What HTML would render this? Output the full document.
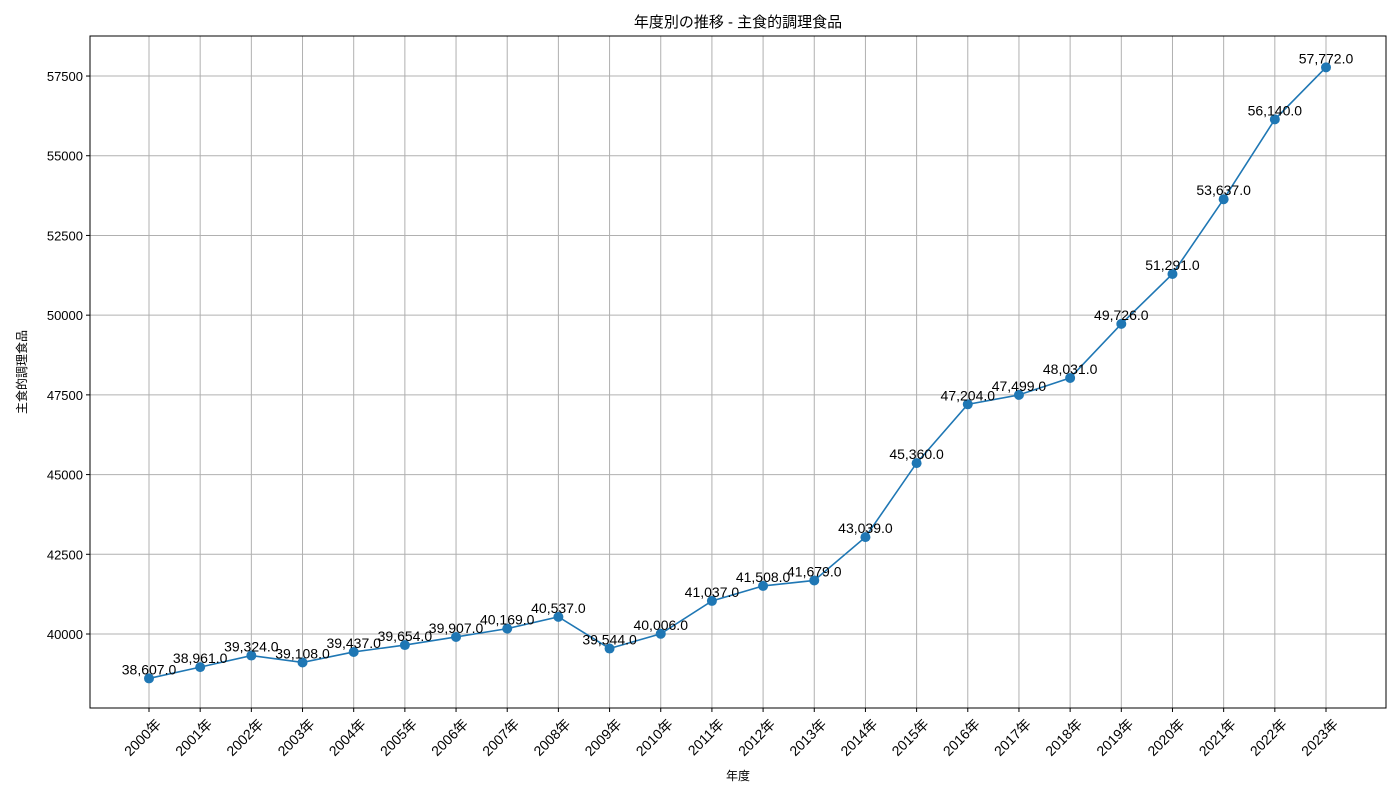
<!DOCTYPE html>
<html><head><meta charset="utf-8"><style>
body{margin:0;background:#fff}
svg{display:block;font-family:"Liberation Sans","Noto Sans CJK JP",sans-serif}
</style></head><body>
<svg id="chart" width="1400" height="800">
<text x="738" y="27" text-anchor="middle" font-size="15">年度別の推移 - 主食的調理食品</text>
<text transform="translate(26,372) rotate(-90)" text-anchor="middle" font-size="12">主食的調理食品</text>
<text x="738" y="780" text-anchor="middle" font-size="12">年度</text>
<g id="grid"></g><g id="yt"></g><g id="xt"></g><g id="series"></g>
<rect x="90" y="36" width="1296" height="672" fill="none" stroke="#000" stroke-width="1"/>
</svg>
<script>
const years=[2000,2001,2002,2003,2004,2005,2006,2007,2008,2009,2010,2011,2012,2013,2014,2015,2016,2017,2018,2019,2020,2021,2022,2023];
const values=[38607,38961,39324,39108,39437,39654,39907,40169,40537,39544,40006,41037,41508,41679,43039,45360,47204,47499,48031,49726,51291,53637,56140,57772];
const yTicks=[40000,42500,45000,47500,50000,52500,55000,57500];
const NS='http://www.w3.org/2000/svg';
const L=90,R=1386,T=36,B=708;
const x=i=>149+i*(1326-149)/(years.length-1);
const y=v=>634-(v-40000)/2500*79.71;
function mk(tag,attrs,parent,txt){const e=document.createElementNS(NS,tag);for(const k in attrs)e.setAttribute(k,attrs[k]);if(txt!=null)e.textContent=txt;parent.appendChild(e);return e;}
const g=document.getElementById('grid'),yt=document.getElementById('yt'),xt=document.getElementById('xt'),s=document.getElementById('series');
yTicks.forEach(v=>{
  const ln=mk('line',{x1:L,x2:R,y1:y(v),y2:y(v),stroke:'#b0b0b0','stroke-width':1},g);
  
  
  mk('line',{x1:L-4,x2:L,y1:y(v),y2:y(v),stroke:'#000'},yt);
  const t=mk('text',{x:L-7,y:y(v)+5,'text-anchor':'end','font-size':13},yt,String(v));
  
  
});
years.forEach((yr,i)=>{
  const ln=mk('line',{x1:x(i),x2:x(i),y1:T,y2:B,stroke:'#b0b0b0','stroke-width':1},g);
  
  
  mk('line',{x1:x(i),x2:x(i),y1:B,y2:B+4,stroke:'#000'},xt);
  const t=mk('text',{transform:`translate(${x(i)+13},${B+17}) rotate(-45)`,'text-anchor':'end','font-size':14},xt,yr+'年');
  
  
});
const p=mk('polyline',{points:values.map((v,i)=>x(i)+','+y(v)).join(' '),fill:'none',stroke:'#1f77b4','stroke-width':1.6},s);


values.forEach((v,i)=>{
  const c=mk('circle',{cx:x(i),cy:y(v),r:5,fill:'#1f77b4'},s);
  
  
  const t=mk('text',{x:x(i),y:y(v)-4,'text-anchor':'middle','font-size':14},s,v.toLocaleString('en-US')+'.0');
  
  
});
</script>
</body></html>
